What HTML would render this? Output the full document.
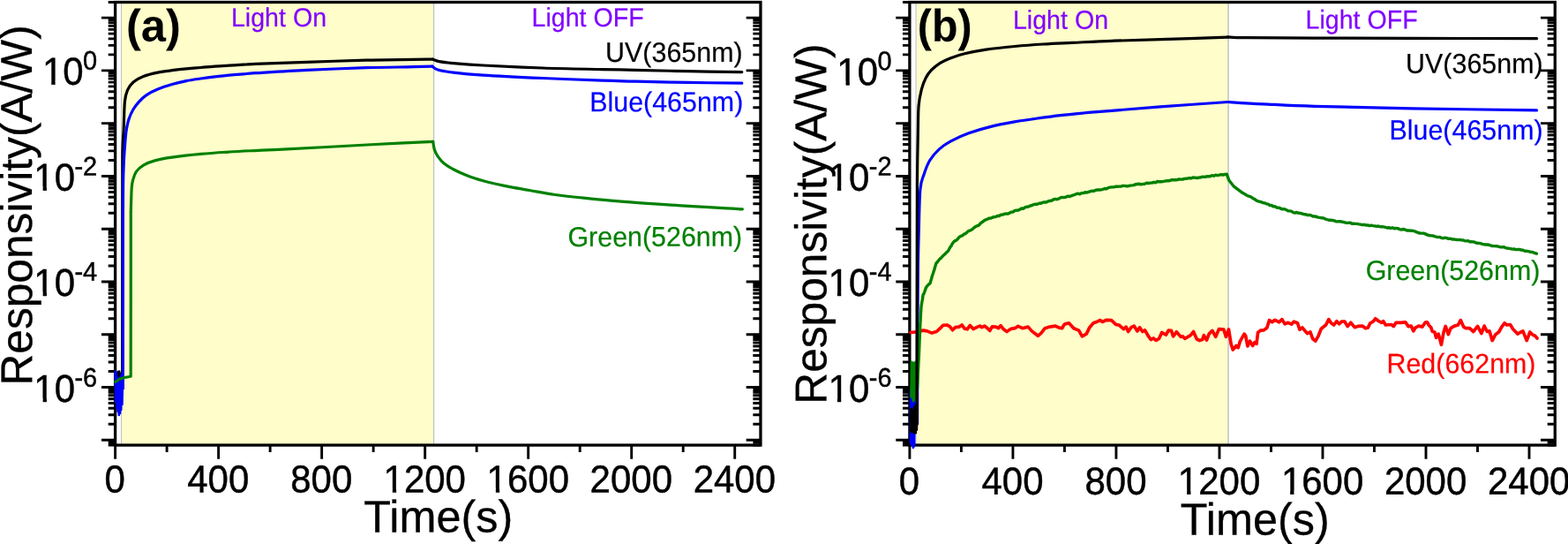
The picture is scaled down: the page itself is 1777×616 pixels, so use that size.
<!DOCTYPE html>
<html lang="en">
<head>
<meta charset="utf-8">
<title>Responsivity vs Time</title>
<style>
html,body{margin:0;padding:0;background:#fff;}
body{width:1777px;height:616px;overflow:hidden;}
svg{display:block;}
</style>
</head>
<body>
<svg width="1777" height="616" viewBox="0 0 1777 616">
<defs><clipPath id="k1"><path clip-rule="evenodd" d="M-120 -70H120V30H-120ZM-45.15 -4.1H-36.00V1H-45.15ZM-31.75 -4.1H-23.65V1H-31.75Z"/></clipPath><clipPath id="k2"><path clip-rule="evenodd" d="M-120 -70H120V30H-120ZM-60.47 -4.1H-51.32V1H-60.47ZM-47.07 -4.1H-38.97V1H-47.07Z"/></clipPath><clipPath id="k3"><path clip-rule="evenodd" d="M-120 -70H120V30H-120ZM-69.98 -4.1H-60.83V1H-69.98ZM-56.58 -4.1H-48.48V1H-56.58Z"/></clipPath></defs>
<rect width="1777" height="616" fill="#fff"/>
<rect x="138" y="2.50" width="353.00" height="501.55" fill="#fffdca"/><rect x="137" y="2.50" width="1.00" height="501.55" fill="#c0c0c0"/><rect x="491" y="2.50" width="1.00" height="501.55" fill="#c0c0c0"/><rect x="492" y="2.50" width="1.00" height="501.55" fill="#f0f0f0"/>
<rect x="1038.8" y="2.50" width="352.20" height="501.55" fill="#fffdca"/><rect x="1037.4" y="2.50" width="1.40" height="501.55" fill="#cfcfcf"/><rect x="1391" y="2.50" width="2.00" height="501.55" fill="#d0d0d0"/>
<rect x="130.60" y="2.50" width="731.37" height="501.55" fill="none" stroke="#000" stroke-width="3.3"/>
<path d="M122.70 504.08H130.60M861.97 504.08H853.37 M122.70 501.02H130.60M861.97 501.02H853.37 M115.00 498.29H130.60M861.97 498.29H845.67 M122.70 480.30H130.60M861.97 480.30H853.37 M122.70 469.77H130.60M861.97 469.77H853.37 M122.70 462.30H130.60M861.97 462.30H853.37 M122.70 456.51H130.60M861.97 456.51H853.37 M122.70 451.78H130.60M861.97 451.78H853.37 M122.70 447.78H130.60M861.97 447.78H853.37 M122.70 444.31H130.60M861.97 444.31H853.37 M122.70 441.25H130.60M861.97 441.25H853.37 M115.00 438.52H130.60M861.97 438.52H845.67 M122.70 420.53H130.60M861.97 420.53H853.37 M122.70 410.00H130.60M861.97 410.00H853.37 M122.70 402.53H130.60M861.97 402.53H853.37 M122.70 396.74H130.60M861.97 396.74H853.37 M122.70 392.01H130.60M861.97 392.01H853.37 M122.70 388.01H130.60M861.97 388.01H853.37 M122.70 384.54H130.60M861.97 384.54H853.37 M122.70 381.48H130.60M861.97 381.48H853.37 M115.00 378.75H130.60M861.97 378.75H845.67 M122.70 360.76H130.60M861.97 360.76H853.37 M122.70 350.23H130.60M861.97 350.23H853.37 M122.70 342.76H130.60M861.97 342.76H853.37 M122.70 336.97H130.60M861.97 336.97H853.37 M122.70 332.24H130.60M861.97 332.24H853.37 M122.70 328.24H130.60M861.97 328.24H853.37 M122.70 324.77H130.60M861.97 324.77H853.37 M122.70 321.71H130.60M861.97 321.71H853.37 M115.00 318.98H130.60M861.97 318.98H845.67 M122.70 300.99H130.60M861.97 300.99H853.37 M122.70 290.46H130.60M861.97 290.46H853.37 M122.70 282.99H130.60M861.97 282.99H853.37 M122.70 277.20H130.60M861.97 277.20H853.37 M122.70 272.47H130.60M861.97 272.47H853.37 M122.70 268.47H130.60M861.97 268.47H853.37 M122.70 265.00H130.60M861.97 265.00H853.37 M122.70 261.94H130.60M861.97 261.94H853.37 M115.00 259.21H130.60M861.97 259.21H845.67 M122.70 241.22H130.60M861.97 241.22H853.37 M122.70 230.69H130.60M861.97 230.69H853.37 M122.70 223.22H130.60M861.97 223.22H853.37 M122.70 217.43H130.60M861.97 217.43H853.37 M122.70 212.70H130.60M861.97 212.70H853.37 M122.70 208.70H130.60M861.97 208.70H853.37 M122.70 205.23H130.60M861.97 205.23H853.37 M122.70 202.17H130.60M861.97 202.17H853.37 M115.00 199.44H130.60M861.97 199.44H845.67 M122.70 181.45H130.60M861.97 181.45H853.37 M122.70 170.92H130.60M861.97 170.92H853.37 M122.70 163.45H130.60M861.97 163.45H853.37 M122.70 157.66H130.60M861.97 157.66H853.37 M122.70 152.93H130.60M861.97 152.93H853.37 M122.70 148.93H130.60M861.97 148.93H853.37 M122.70 145.46H130.60M861.97 145.46H853.37 M122.70 142.40H130.60M861.97 142.40H853.37 M115.00 139.67H130.60M861.97 139.67H845.67 M122.70 121.68H130.60M861.97 121.68H853.37 M122.70 111.15H130.60M861.97 111.15H853.37 M122.70 103.68H130.60M861.97 103.68H853.37 M122.70 97.89H130.60M861.97 97.89H853.37 M122.70 93.16H130.60M861.97 93.16H853.37 M122.70 89.16H130.60M861.97 89.16H853.37 M122.70 85.69H130.60M861.97 85.69H853.37 M122.70 82.63H130.60M861.97 82.63H853.37 M115.00 79.90H130.60M861.97 79.90H845.67 M122.70 61.91H130.60M861.97 61.91H853.37 M122.70 51.38H130.60M861.97 51.38H853.37 M122.70 43.91H130.60M861.97 43.91H853.37 M122.70 38.12H130.60M861.97 38.12H853.37 M122.70 33.39H130.60M861.97 33.39H853.37 M122.70 29.39H130.60M861.97 29.39H853.37 M122.70 25.92H130.60M861.97 25.92H853.37 M122.70 22.86H130.60M861.97 22.86H853.37 M115.00 20.13H130.60M861.97 20.13H845.67 M122.70 2.50H130.60 M122.70 504.05H130.60 M130.60 504.05V519.65 M189.11 504.05V511.95 M247.62 504.05V519.65 M306.13 504.05V511.95 M364.64 504.05V519.65 M423.15 504.05V511.95 M481.66 504.05V519.65 M540.17 504.05V511.95 M598.68 504.05V519.65 M657.19 504.05V511.95 M715.70 504.05V519.65 M774.21 504.05V511.95 M832.72 504.05V519.65" fill="none" stroke="#000" stroke-width="2.9"/>
<rect x="1030.90" y="2.50" width="731.38" height="501.55" fill="none" stroke="#000" stroke-width="3.3"/>
<path d="M1023.00 504.08H1030.90M1762.28 504.08H1753.67 M1023.00 501.02H1030.90M1762.28 501.02H1753.67 M1015.30 498.29H1030.90M1762.28 498.29H1745.98 M1023.00 480.30H1030.90M1762.28 480.30H1753.67 M1023.00 469.77H1030.90M1762.28 469.77H1753.67 M1023.00 462.30H1030.90M1762.28 462.30H1753.67 M1023.00 456.51H1030.90M1762.28 456.51H1753.67 M1023.00 451.78H1030.90M1762.28 451.78H1753.67 M1023.00 447.78H1030.90M1762.28 447.78H1753.67 M1023.00 444.31H1030.90M1762.28 444.31H1753.67 M1023.00 441.25H1030.90M1762.28 441.25H1753.67 M1015.30 438.52H1030.90M1762.28 438.52H1745.98 M1023.00 420.53H1030.90M1762.28 420.53H1753.67 M1023.00 410.00H1030.90M1762.28 410.00H1753.67 M1023.00 402.53H1030.90M1762.28 402.53H1753.67 M1023.00 396.74H1030.90M1762.28 396.74H1753.67 M1023.00 392.01H1030.90M1762.28 392.01H1753.67 M1023.00 388.01H1030.90M1762.28 388.01H1753.67 M1023.00 384.54H1030.90M1762.28 384.54H1753.67 M1023.00 381.48H1030.90M1762.28 381.48H1753.67 M1015.30 378.75H1030.90M1762.28 378.75H1745.98 M1023.00 360.76H1030.90M1762.28 360.76H1753.67 M1023.00 350.23H1030.90M1762.28 350.23H1753.67 M1023.00 342.76H1030.90M1762.28 342.76H1753.67 M1023.00 336.97H1030.90M1762.28 336.97H1753.67 M1023.00 332.24H1030.90M1762.28 332.24H1753.67 M1023.00 328.24H1030.90M1762.28 328.24H1753.67 M1023.00 324.77H1030.90M1762.28 324.77H1753.67 M1023.00 321.71H1030.90M1762.28 321.71H1753.67 M1015.30 318.98H1030.90M1762.28 318.98H1745.98 M1023.00 300.99H1030.90M1762.28 300.99H1753.67 M1023.00 290.46H1030.90M1762.28 290.46H1753.67 M1023.00 282.99H1030.90M1762.28 282.99H1753.67 M1023.00 277.20H1030.90M1762.28 277.20H1753.67 M1023.00 272.47H1030.90M1762.28 272.47H1753.67 M1023.00 268.47H1030.90M1762.28 268.47H1753.67 M1023.00 265.00H1030.90M1762.28 265.00H1753.67 M1023.00 261.94H1030.90M1762.28 261.94H1753.67 M1015.30 259.21H1030.90M1762.28 259.21H1745.98 M1023.00 241.22H1030.90M1762.28 241.22H1753.67 M1023.00 230.69H1030.90M1762.28 230.69H1753.67 M1023.00 223.22H1030.90M1762.28 223.22H1753.67 M1023.00 217.43H1030.90M1762.28 217.43H1753.67 M1023.00 212.70H1030.90M1762.28 212.70H1753.67 M1023.00 208.70H1030.90M1762.28 208.70H1753.67 M1023.00 205.23H1030.90M1762.28 205.23H1753.67 M1023.00 202.17H1030.90M1762.28 202.17H1753.67 M1015.30 199.44H1030.90M1762.28 199.44H1745.98 M1023.00 181.45H1030.90M1762.28 181.45H1753.67 M1023.00 170.92H1030.90M1762.28 170.92H1753.67 M1023.00 163.45H1030.90M1762.28 163.45H1753.67 M1023.00 157.66H1030.90M1762.28 157.66H1753.67 M1023.00 152.93H1030.90M1762.28 152.93H1753.67 M1023.00 148.93H1030.90M1762.28 148.93H1753.67 M1023.00 145.46H1030.90M1762.28 145.46H1753.67 M1023.00 142.40H1030.90M1762.28 142.40H1753.67 M1015.30 139.67H1030.90M1762.28 139.67H1745.98 M1023.00 121.68H1030.90M1762.28 121.68H1753.67 M1023.00 111.15H1030.90M1762.28 111.15H1753.67 M1023.00 103.68H1030.90M1762.28 103.68H1753.67 M1023.00 97.89H1030.90M1762.28 97.89H1753.67 M1023.00 93.16H1030.90M1762.28 93.16H1753.67 M1023.00 89.16H1030.90M1762.28 89.16H1753.67 M1023.00 85.69H1030.90M1762.28 85.69H1753.67 M1023.00 82.63H1030.90M1762.28 82.63H1753.67 M1015.30 79.90H1030.90M1762.28 79.90H1745.98 M1023.00 61.91H1030.90M1762.28 61.91H1753.67 M1023.00 51.38H1030.90M1762.28 51.38H1753.67 M1023.00 43.91H1030.90M1762.28 43.91H1753.67 M1023.00 38.12H1030.90M1762.28 38.12H1753.67 M1023.00 33.39H1030.90M1762.28 33.39H1753.67 M1023.00 29.39H1030.90M1762.28 29.39H1753.67 M1023.00 25.92H1030.90M1762.28 25.92H1753.67 M1023.00 22.86H1030.90M1762.28 22.86H1753.67 M1015.30 20.13H1030.90M1762.28 20.13H1745.98 M1023.00 2.50H1030.90 M1023.00 504.05H1030.90 M1030.90 504.05V519.65 M1089.41 504.05V511.95 M1147.92 504.05V519.65 M1206.43 504.05V511.95 M1264.94 504.05V519.65 M1323.45 504.05V511.95 M1381.96 504.05V519.65 M1440.47 504.05V511.95 M1498.98 504.05V519.65 M1557.49 504.05V511.95 M1616.00 504.05V519.65 M1674.51 504.05V511.95 M1733.02 504.05V519.65" fill="none" stroke="#000" stroke-width="2.9"/>
<path d="M131.0 430.0 L133.5 421.0 L134.5 438.0 L135.2 420.5 L136.0 440.0 L137.0 423.0 L138.5 430.0" fill="none" stroke="#000" stroke-width="2.5" stroke-linejoin="round" stroke-linecap="round" />
<path d="M138.7 430.0 C138.7 398.3 138.8 282.9 138.8 240.0 C138.8 197.1 138.7 187.9 138.9 172.5 C139.1 157.1 139.7 157.0 140.1 147.4 C140.5 137.8 140.7 122.5 141.4 114.9 C142.2 107.3 143.0 105.6 144.6 101.9 C146.2 98.2 148.1 95.6 151.1 93.0 C154.1 90.4 157.9 88.3 162.5 86.5 C167.1 84.7 173.3 83.2 178.7 82.1 C184.1 81.0 189.5 80.4 194.9 79.7 C200.3 79.0 205.7 78.4 211.1 77.9 C216.5 77.4 222.0 77.0 227.4 76.5 C232.8 76.0 238.2 75.6 243.6 75.2 C249.0 74.8 254.4 74.5 259.8 74.2 C265.2 73.9 271.0 73.5 276.0 73.2 C281.0 72.9 277.9 72.9 289.8 72.4 C301.7 71.9 326.6 71.0 347.5 70.3 C368.4 69.6 394.8 68.7 415.0 68.2 C435.2 67.7 456.4 67.5 469.0 67.3 C481.6 67.1 487.1 67.2 490.7 67.2" fill="none" stroke="#000" stroke-width="3.2" stroke-linejoin="round" stroke-linecap="round"/>
<path d="M490.7 67.2 C491.9 67.6 493.8 68.9 497.6 69.6 C501.5 70.3 505.5 70.9 513.8 71.6 C522.1 72.3 530.6 73.1 547.5 74.0 C564.4 74.9 592.5 76.2 615.0 77.0 C637.5 77.8 665.1 78.2 682.6 78.6 C700.1 79.0 703.8 78.9 720.0 79.3 C736.2 79.7 759.9 80.3 780.0 80.7 C800.1 81.1 830.7 81.4 840.8 81.6" fill="none" stroke="#000" stroke-width="3.2" stroke-linejoin="round" stroke-linecap="round"/>
<path d="M130.8 420.5 L131.2 455.0 L131.8 422.0 L132.4 462.0 L133.0 432.0 L133.6 466.0 L134.2 428.0 L134.8 470.0 L135.4 430.0 L136.0 468.0 L136.6 427.0 L137.2 464.0 L137.8 424.0 L138.4 458.0 L139.0 430.0 L139.3 440.0" fill="none" stroke="#0000ff" stroke-width="2.6" stroke-linejoin="round" stroke-linecap="round" />
<path d="M139.3 440.0 C139.3 406.7 139.3 281.9 139.4 240.0 C139.5 198.1 139.6 202.7 140.1 188.7 C140.6 174.7 141.6 163.5 142.2 156.2 C142.8 148.9 142.9 148.6 143.6 145.0 C144.3 141.4 144.9 137.9 146.2 134.4 C147.4 130.9 149.2 127.0 151.1 123.8 C153.0 120.6 155.2 117.8 157.6 115.1 C160.0 112.4 162.2 110.1 165.7 107.8 C169.2 105.5 173.8 103.0 178.7 101.0 C183.6 99.0 189.5 97.1 194.9 95.5 C200.3 93.9 205.7 92.7 211.1 91.6 C216.5 90.5 222.0 89.8 227.4 89.0 C232.8 88.2 238.2 87.5 243.6 86.9 C249.0 86.3 254.4 85.7 259.8 85.2 C265.2 84.7 271.0 84.2 276.0 83.8 C281.0 83.4 277.9 83.4 289.8 82.7 C301.7 82.0 326.6 80.4 347.5 79.4 C368.4 78.4 394.8 77.3 415.0 76.7 C435.2 76.1 456.5 76.0 469.0 75.7 C481.5 75.4 486.5 75.2 490.0 75.1" fill="none" stroke="#0000ff" stroke-width="3.2" stroke-linejoin="round" stroke-linecap="round"/>
<path d="M490.0 75.1 C491.0 75.8 492.2 77.8 496.2 79.0 C500.2 80.2 505.2 81.1 513.8 82.1 C522.3 83.1 530.6 84.0 547.5 85.1 C564.4 86.2 592.5 87.5 615.0 88.5 C637.5 89.5 665.1 90.6 682.6 91.2 C700.1 91.8 703.8 91.7 720.0 92.1 C736.2 92.5 759.9 93.1 780.0 93.4 C800.1 93.8 830.7 94.1 840.8 94.2" fill="none" stroke="#0000ff" stroke-width="3.2" stroke-linejoin="round" stroke-linecap="round"/>
<path d="M130.8 432.5 L135.0 429.5 L140.0 427.8 L148.2 426.2 L148.3 300.0 L148.3 240.0" fill="none" stroke="#008000" stroke-width="3.2" stroke-linejoin="round" stroke-linecap="round" />
<path d="M148.3 240.0 C148.5 235.5 148.8 219.2 149.2 213.1 C149.6 207.0 149.9 206.4 150.8 203.3 C151.7 200.2 152.5 197.1 154.4 194.4 C156.3 191.7 159.0 189.2 162.5 187.1 C166.0 185.0 170.1 183.4 175.5 181.9 C180.9 180.4 186.3 179.4 195.0 178.2 C203.7 176.9 216.6 175.4 227.4 174.4 C238.2 173.4 249.1 172.7 259.9 172.0 C270.7 171.3 281.6 170.9 292.4 170.4 C303.2 169.9 312.0 169.6 324.9 168.9 C337.8 168.2 353.3 167.4 370.0 166.5 C386.7 165.6 404.9 164.5 425.0 163.5 C445.1 162.5 479.8 160.8 490.7 160.3" fill="none" stroke="#008000" stroke-width="3.2" stroke-linejoin="round" stroke-linecap="round"/>
<path d="M490.7 160.3 C491.0 161.8 491.4 166.4 492.3 169.2 C493.2 172.0 494.6 174.7 496.4 177.3 C498.2 179.9 499.9 182.2 502.9 184.7 C505.9 187.1 509.7 189.6 514.3 192.0 C518.9 194.4 525.1 197.2 530.5 199.3 C535.9 201.4 541.3 203.0 546.7 204.5 C552.1 206.0 557.6 207.3 563.0 208.5 C568.4 209.7 573.0 210.7 579.2 211.9 C585.4 213.1 591.7 214.1 600.0 215.5 C608.3 216.9 617.7 218.9 629.0 220.5 C640.3 222.1 654.9 223.5 667.9 224.8 C680.9 226.1 693.9 227.2 706.9 228.3 C719.9 229.4 732.9 230.3 745.9 231.2 C758.9 232.1 771.9 232.8 784.9 233.6 C797.9 234.4 814.4 235.3 823.8 235.9 C833.2 236.5 838.5 236.7 841.4 236.9" fill="none" stroke="#008000" stroke-width="3.2" stroke-linejoin="round" stroke-linecap="round"/>
<path d="M1032.0 376.5 L1037.8 375.8 L1046.4 374.1 L1050.7 374.9 L1056.0 377.1 L1061.4 375.5 L1065.6 371.7 L1068.8 368.3 L1073.1 368.0 L1076.3 369.6 L1079.5 373.7 L1082.7 370.7 L1087.0 370.1 L1090.2 368.0 L1093.4 372.3 L1096.1 372.8 L1099.3 368.5 L1103.0 372.6 L1107.3 370.4 L1110.5 369.1 L1112.7 370.7 L1115.9 369.1 L1119.1 371.7 L1121.8 374.4 L1124.4 369.8 L1128.7 370.1 L1131.4 371.7 L1134.1 368.7 L1137.3 372.8 L1141.0 375.5 L1145.8 372.3 L1150.1 371.7 L1153.8 369.4 L1158.6 371.7 L1165.1 370.1 L1169.3 374.9 L1176.3 380.3 L1180.0 377.1 L1184.3 371.7 L1189.7 370.1 L1196.1 369.1 L1200.3 371.2 L1203.6 371.7 L1206.0 367.6 L1207.1 366.9 L1211.4 365.8 L1216.8 371.7 L1222.6 374.1 L1226.4 380.8 L1231.2 378.1 L1234.9 370.7 L1239.2 365.8 L1243.5 364.2 L1246.7 362.6 L1249.4 364.5 L1253.6 362.3 L1259.5 362.6 L1264.9 367.7 L1268.1 368.0 L1273.4 372.6 L1276.1 370.1 L1278.6 375.5 L1282.0 370.7 L1285.2 369.1 L1288.9 374.9 L1291.6 370.9 L1294.8 375.5 L1297.5 373.9 L1301.2 380.3 L1304.4 384.6 L1307.1 383.0 L1310.3 385.4 L1313.5 383.5 L1316.7 376.5 L1321.5 379.2 L1324.2 374.1 L1327.4 374.4 L1329.6 380.8 L1333.3 375.8 L1338.1 381.4 L1340.3 380.8 L1342.9 383.3 L1349.3 379.7 L1352.5 375.5 L1356.3 384.0 L1359.5 385.6 L1362.7 384.6 L1364.3 379.7 L1367.5 385.1 L1370.2 378.1 L1373.9 374.4 L1377.7 381.4 L1381.4 372.6 L1386.8 373.0 L1389.4 381.4 L1392.5 373.0 L1395.2 389.9 L1397.3 396.1 L1401.0 391.5 L1403.2 393.6 L1405.3 386.7 L1410.1 378.1 L1411.7 380.3 L1413.9 392.0 L1416.5 386.2 L1419.7 391.5 L1421.9 387.8 L1424.0 389.4 L1425.6 376.5 L1428.8 374.1 L1432.0 373.9 L1435.8 371.2 L1438.5 362.6 L1441.7 364.8 L1444.9 362.3 L1449.7 364.8 L1452.9 361.6 L1456.1 366.9 L1459.8 365.3 L1463.6 367.2 L1466.3 364.2 L1470.5 365.8 L1472.9 373.3 L1475.9 370.9 L1479.1 374.9 L1481.8 377.6 L1485.0 376.0 L1487.6 383.5 L1490.8 386.2 L1494.1 380.3 L1497.3 372.3 L1502.6 368.0 L1505.8 361.6 L1508.5 365.8 L1511.7 368.0 L1514.9 363.7 L1517.6 366.9 L1520.3 364.2 L1524.0 364.2 L1527.2 369.6 L1530.9 365.3 L1535.2 370.7 L1539.0 369.4 L1544.3 369.1 L1547.5 371.7 L1550.2 371.2 L1552.9 365.8 L1556.1 364.2 L1558.7 360.8 L1562.5 363.7 L1565.7 365.3 L1567.7 363.7 L1570.3 368.0 L1576.8 367.5 L1579.4 369.6 L1582.1 365.3 L1587.5 365.3 L1592.8 364.8 L1596.0 369.6 L1599.2 369.1 L1601.9 374.9 L1604.0 371.2 L1607.8 369.1 L1612.0 370.1 L1615.3 365.1 L1617.4 364.8 L1619.5 368.5 L1621.7 370.7 L1623.3 375.5 L1625.9 376.0 L1627.5 382.4 L1630.2 378.1 L1633.4 390.4 L1636.1 376.0 L1638.2 369.4 L1641.4 378.7 L1644.1 371.7 L1648.4 369.1 L1652.1 368.3 L1655.3 362.6 L1658.6 370.1 L1661.2 371.7 L1665.5 371.7 L1669.8 375.5 L1674.6 369.4 L1678.9 377.6 L1682.1 369.1 L1685.3 375.5 L1688.0 374.9 L1691.2 385.6 L1694.9 378.7 L1698.6 376.0 L1701.9 370.1 L1705.1 365.8 L1707.7 368.0 L1711.5 367.5 L1714.7 372.8 L1720.0 378.1 L1722.7 376.5 L1725.9 374.9 L1730.2 385.6 L1733.9 376.0 L1737.1 379.2 L1739.8 380.3 L1742.0 383.0" fill="none" stroke="#ff0000" stroke-width="3.7" stroke-linejoin="round" stroke-linecap="round" />
<path d="M1031.8 500.9 L1032.1 442.4 L1032.4 502.0 L1032.7 442.8 L1033.1 504.0 L1033.4 438.5 L1033.7 499.1 L1034.0 444.7 L1034.3 501.1 L1034.6 439.9 L1034.9 507.0 L1035.2 441.8 L1035.6 505.7 L1035.9 441.8 L1036.2 504.1 L1036.5 439.2" fill="none" stroke="#0000ff" stroke-width="2.6" stroke-linejoin="round" stroke-linecap="round" />
<path d="M1039.6 480.0 C1039.6 463.3 1039.7 410.0 1039.8 380.0 C1039.9 350.0 1040.2 320.0 1040.4 300.0 C1040.7 280.0 1040.9 274.3 1041.3 260.0 C1041.7 245.7 1041.9 224.8 1042.9 214.3 C1043.9 203.8 1045.5 202.4 1047.3 196.9 C1049.1 191.4 1051.0 186.1 1053.8 181.5 C1056.6 176.9 1060.3 172.7 1064.2 169.1 C1068.1 165.5 1071.5 163.1 1077.1 160.1 C1082.7 157.1 1090.1 153.6 1097.9 150.8 C1105.7 148.0 1115.2 145.2 1123.9 143.1 C1132.6 140.9 1141.2 139.4 1149.9 137.9 C1158.6 136.4 1167.2 135.2 1175.8 134.0 C1184.4 132.8 1193.1 131.6 1201.8 130.6 C1210.5 129.6 1218.1 128.9 1227.8 128.0 C1237.5 127.1 1245.5 126.5 1260.0 125.3 C1274.5 124.1 1293.1 122.5 1315.0 120.9 C1336.9 119.3 1378.8 116.4 1391.6 115.5" fill="none" stroke="#0000ff" stroke-width="3.2" stroke-linejoin="round" stroke-linecap="round"/>
<path d="M1391.6 115.5 C1398.3 115.9 1415.4 117.0 1431.8 117.8 C1448.2 118.6 1462.0 119.6 1490.0 120.4 C1518.0 121.2 1558.1 122.0 1600.0 122.8 C1641.9 123.5 1718.0 124.6 1741.6 124.9" fill="none" stroke="#0000ff" stroke-width="3.2" stroke-linejoin="round" stroke-linecap="round"/>
<path d="M1032.6 448.9 L1033.0 409.8 L1033.4 450.2 L1033.8 410.2 L1034.1 447.5 L1034.5 412.2 L1034.9 454.3 L1035.3 415.4 L1035.7 453.1 L1036.1 410.8 L1036.4 451.3 L1036.8 411.2 L1037.2 448.4 L1037.6 409.8" fill="none" stroke="#008000" stroke-width="2.6" stroke-linejoin="round" stroke-linecap="round" />
<path d="M1039.5 440.0 L1041.5 400.0 L1042.7 370.0 L1042.7 370.0 L1042.8 367.8 L1042.9 365.7 L1043.1 363.9 L1043.2 361.2 L1043.3 359.1 L1043.4 357.0 L1043.5 354.4 L1043.7 352.6 L1043.8 350.5 L1043.9 348.5 L1044.3 345.5 L1044.6 343.4 L1045.0 340.9 L1045.4 339.4 L1045.7 337.0 L1046.1 334.0 L1046.9 332.8 L1047.8 330.5 L1048.7 327.9 L1049.5 325.6 L1051.0 323.6 L1052.6 321.9 L1054.1 320.9 L1054.8 318.1 L1055.5 316.0 L1056.1 313.8 L1056.8 311.3 L1057.5 309.5 L1058.2 307.2 L1058.9 305.4 L1059.5 302.7 L1060.2 300.6 L1060.9 298.2 L1062.3 296.8 L1063.6 295.0 L1065.0 293.2 L1066.3 292.3 L1067.7 290.7 L1069.4 289.1 L1071.1 287.6 L1072.8 285.7 L1074.5 284.2 L1075.6 282.2 L1076.8 279.9 L1077.9 278.7 L1079.1 276.2 L1080.2 274.7 L1081.9 272.9 L1083.6 272.2 L1085.3 270.7 L1087.1 268.5 L1088.8 267.4 L1090.5 266.9 L1092.4 265.2 L1094.3 264.6 L1096.2 262.8 L1098.0 261.3 L1099.9 260.8 L1101.8 259.8 L1103.5 258.1 L1105.2 256.8 L1106.9 255.9 L1108.6 255.5 L1110.2 254.1 L1111.9 252.2 L1113.6 251.2 L1115.3 249.9 L1117.0 248.8 L1118.7 248.4 L1120.6 247.2 L1122.6 247.1 L1124.5 246.4 L1126.5 245.6 L1128.4 245.6 L1130.3 244.4 L1132.3 244.5 L1134.2 243.3 L1136.2 243.1 L1138.1 242.4 L1140.1 241.9 L1142.0 242.1 L1144.0 241.3 L1145.9 240.1 L1147.9 240.1 L1149.8 238.7 L1151.8 238.2 L1153.8 238.1 L1155.7 237.2 L1157.7 236.0 L1159.6 236.3 L1161.6 234.8 L1163.5 234.2 L1165.5 234.1 L1167.5 233.1 L1169.5 232.5 L1171.5 231.7 L1173.6 231.2 L1175.6 231.2 L1177.6 230.3 L1179.6 230.2 L1181.6 229.4 L1183.7 228.9 L1185.7 229.0 L1187.7 227.9 L1189.7 227.5 L1191.7 227.3 L1193.7 226.0 L1195.8 225.4 L1197.8 225.7 L1199.8 225.1 L1201.8 223.9 L1203.8 223.4 L1205.8 223.6 L1207.8 223.3 L1209.8 222.1 L1211.8 222.5 L1213.8 221.9 L1215.8 221.2 L1217.8 220.5 L1219.8 219.7 L1221.8 219.2 L1223.8 219.8 L1225.8 218.6 L1227.8 218.6 L1229.8 217.7 L1231.8 218.0 L1233.8 217.3 L1235.8 216.6 L1237.9 216.1 L1239.9 216.3 L1241.9 215.2 L1243.9 215.0 L1245.9 215.0 L1247.9 214.9 L1249.9 214.3 L1252.0 213.5 L1254.0 213.8 L1256.0 212.6 L1258.0 212.1 L1260.0 211.9 L1262.1 211.9 L1264.1 211.3 L1266.2 211.2 L1268.3 211.1 L1270.4 211.1 L1272.4 210.4 L1274.5 210.4 L1276.6 210.8 L1278.6 210.7 L1280.7 210.1 L1282.8 209.9 L1284.9 209.6 L1286.9 208.8 L1289.0 208.5 L1291.1 208.2 L1293.1 208.9 L1295.2 208.4 L1297.2 208.4 L1299.3 207.1 L1301.3 207.5 L1303.4 207.1 L1305.4 207.1 L1307.5 206.3 L1309.5 206.8 L1311.6 205.5 L1313.6 205.8 L1315.7 205.7 L1317.7 205.6 L1319.8 205.2 L1321.8 204.8 L1323.9 204.7 L1325.9 204.5 L1328.0 203.6 L1330.1 203.8 L1332.1 203.8 L1334.2 203.6 L1336.2 202.9 L1338.3 203.1 L1340.3 203.0 L1342.4 202.4 L1344.4 202.3 L1346.5 201.8 L1348.5 201.8 L1350.6 201.7 L1352.6 200.9 L1354.7 201.3 L1356.7 201.5 L1358.8 201.1 L1360.8 200.8 L1362.9 200.2 L1364.9 200.4 L1367.0 200.0 L1369.1 199.6 L1371.2 199.8 L1373.4 198.7 L1375.5 199.2 L1377.6 198.2 L1379.7 198.6 L1381.8 198.2 L1383.9 197.7 L1386.1 198.0 L1388.2 197.5 L1390.3 197.4" fill="none" stroke="#008000" stroke-width="3.4" stroke-linejoin="round" stroke-linecap="round" />
<path d="M1390.3 197.3 L1392.9 204.3 L1398.0 210.8 L1408.4 218.6 L1408.4 218.6 L1410.4 219.6 L1412.3 220.8 L1414.2 221.9 L1416.2 222.4 L1418.2 223.3 L1420.1 224.7 L1422.0 225.6 L1424.0 227.2 L1425.9 227.8 L1427.8 228.3 L1429.7 228.9 L1431.6 229.7 L1433.5 229.9 L1435.3 230.8 L1437.2 231.2 L1439.1 232.6 L1441.0 232.4 L1442.9 233.9 L1444.8 233.8 L1446.9 235.0 L1449.0 235.2 L1451.0 235.9 L1453.1 236.9 L1455.2 236.7 L1457.3 237.3 L1459.4 238.7 L1461.4 238.9 L1463.5 239.1 L1465.6 240.6 L1467.6 241.0 L1469.7 240.5 L1471.7 241.3 L1473.7 241.4 L1475.8 242.0 L1477.8 242.7 L1479.8 242.7 L1481.9 243.6 L1483.9 243.4 L1485.9 243.9 L1488.0 245.0 L1490.0 245.0 L1492.0 245.5 L1494.0 246.1 L1496.0 246.4 L1498.0 246.8 L1500.0 246.9 L1502.0 248.0 L1504.0 248.7 L1506.0 249.2 L1508.0 249.3 L1510.0 249.5 L1512.0 249.9 L1514.0 250.7 L1516.0 250.9 L1518.0 250.6 L1520.0 251.0 L1522.0 251.4 L1524.0 251.8 L1526.0 252.4 L1528.0 252.4 L1530.0 252.1 L1532.0 253.2 L1534.0 253.1 L1536.0 253.4 L1538.0 253.4 L1540.0 253.9 L1542.0 254.1 L1544.0 254.7 L1546.0 254.3 L1548.0 255.0 L1550.0 254.9 L1552.0 255.6 L1554.0 255.2 L1556.0 255.6 L1558.0 255.9 L1560.0 256.4 L1562.0 256.0 L1564.0 256.7 L1566.0 256.6 L1568.0 256.9 L1570.0 257.3 L1572.0 258.0 L1574.0 257.7 L1576.0 258.4 L1578.0 257.8 L1580.0 258.8 L1582.0 258.5 L1584.1 258.6 L1586.2 259.6 L1588.3 260.1 L1590.4 259.5 L1592.5 260.1 L1594.5 261.0 L1596.6 260.9 L1598.7 261.2 L1600.8 261.3 L1602.9 261.7 L1605.0 262.6 L1607.1 263.5 L1609.1 264.0 L1611.2 264.1 L1613.3 264.1 L1615.3 264.9 L1617.4 265.9 L1619.4 266.5 L1621.5 266.8 L1623.6 266.9 L1625.6 267.7 L1627.7 268.2 L1629.7 268.6 L1631.7 268.5 L1633.7 269.4 L1635.7 269.7 L1637.7 269.2 L1639.7 269.6 L1641.7 270.4 L1643.7 270.1 L1645.8 271.0 L1647.8 270.9 L1649.8 271.3 L1651.8 271.6 L1653.8 271.4 L1655.8 271.7 L1657.8 271.9 L1659.8 272.6 L1661.8 272.9 L1663.8 272.7 L1665.8 273.8 L1667.8 273.7 L1669.8 273.9 L1671.9 274.5 L1673.9 275.4 L1675.9 275.3 L1677.9 275.7 L1679.9 276.4 L1681.9 276.8 L1683.9 277.0 L1685.9 277.0 L1688.0 277.5 L1690.0 278.2 L1692.0 278.5 L1694.0 278.6 L1696.0 278.7 L1698.0 279.1 L1700.0 279.7 L1702.0 279.9 L1704.0 279.6 L1706.0 280.6 L1708.0 281.1 L1710.0 281.3 L1712.0 281.7 L1714.0 282.1 L1716.0 282.0 L1718.0 282.6 L1720.0 282.5 L1722.0 282.5 L1724.0 283.0 L1726.0 283.3 L1728.0 284.2 L1730.0 284.3 L1732.3 284.7 L1734.6 285.4 L1736.8 285.5 L1739.1 286.5 L1741.4 287.2" fill="none" stroke="#008000" stroke-width="3.4" stroke-linejoin="round" stroke-linecap="round" />
<path d="M1032.0 488.0 L1032.6 462.9 L1033.2 489.4 L1033.7 464.5 L1034.3 488.9 L1034.9 464.4 L1035.5 483.2 L1036.0 460.7 L1036.6 490.5 L1037.2 462.2 L1037.8 490.2 L1038.3 457.9 L1038.9 486.8 L1039.5 459.0" fill="none" stroke="#000" stroke-width="2.6" stroke-linejoin="round" stroke-linecap="round" />
<path d="M1039.0 480.0 C1039.0 450.0 1039.2 346.0 1039.3 300.0 C1039.4 254.0 1039.3 228.7 1039.5 204.0 C1039.7 179.3 1040.0 166.0 1040.3 152.0 C1040.6 138.0 1040.4 128.5 1041.1 120.0 C1041.8 111.5 1043.1 106.5 1044.4 101.2 C1045.8 95.9 1047.3 91.9 1049.2 88.2 C1051.1 84.5 1053.0 82.0 1055.7 79.2 C1058.4 76.4 1062.0 73.5 1065.5 71.3 C1069.0 69.1 1072.2 67.7 1076.8 65.9 C1081.4 64.2 1086.3 62.4 1093.1 60.8 C1099.9 59.2 1107.9 57.5 1117.4 56.1 C1126.9 54.7 1139.1 53.5 1149.9 52.5 C1160.7 51.5 1171.6 50.7 1182.4 50.0 C1193.2 49.3 1202.0 49.0 1214.9 48.4 C1227.8 47.8 1243.3 46.9 1260.0 46.3 C1276.7 45.7 1293.1 45.4 1315.0 44.7 C1336.9 44.0 1378.6 42.5 1391.3 42.1" fill="none" stroke="#000" stroke-width="3.2" stroke-linejoin="round" stroke-linecap="round"/>
<path d="M1391.3 41.9 C1394.8 42.0 1396.0 42.5 1412.4 42.7 C1428.9 42.9 1458.7 43.0 1490.0 43.1 C1521.3 43.2 1558.1 43.3 1600.0 43.4 C1641.9 43.5 1718.0 43.6 1741.6 43.6" fill="none" stroke="#000" stroke-width="3.2" stroke-linejoin="round" stroke-linecap="round"/>
<g font-family='"Liberation Sans", sans-serif' fill="#000">
<text transform="translate(130.20 557.50) rotate(-0.03) scale(1.012 1.05)" text-anchor="middle" font-size="41.5" stroke="#000" stroke-width="0.45">0</text>
<text transform="translate(247.22 557.50) rotate(-0.03) scale(1.012 1.05)" text-anchor="middle" font-size="41.5" stroke="#000" stroke-width="0.45">400</text>
<text transform="translate(364.24 557.50) rotate(-0.03) scale(1.012 1.05)" text-anchor="middle" font-size="41.5" stroke="#000" stroke-width="0.45">800</text>
<text transform="translate(481.26 557.50) rotate(-0.03) scale(1.012 1.05)" text-anchor="middle" font-size="41.5" stroke="#000" stroke-width="0.45" clip-path="url(#k1)">1200</text>
<text transform="translate(598.28 557.50) rotate(-0.03) scale(1.012 1.05)" text-anchor="middle" font-size="41.5" stroke="#000" stroke-width="0.45" clip-path="url(#k1)">1600</text>
<text transform="translate(715.30 557.50) rotate(-0.03) scale(1.012 1.05)" text-anchor="middle" font-size="41.5" stroke="#000" stroke-width="0.45">2000</text>
<text transform="translate(832.32 557.50) rotate(-0.03) scale(1.012 1.05)" text-anchor="middle" font-size="41.5" stroke="#000" stroke-width="0.45">2400</text>
<text transform="translate(110.20 95.80) rotate(-0.03) scale(1.012 1.05)" text-anchor="end" font-size="41.5" stroke="#000" stroke-width="0.45" clip-path="url(#k2)">10<tspan dx="-0.6" dy="-16.3" font-size="28.6">0</tspan></text>
<text transform="translate(110.20 215.64) rotate(-0.03) scale(1.012 1.05)" text-anchor="end" font-size="41.5" stroke="#000" stroke-width="0.45" clip-path="url(#k3)">10<tspan dx="-0.6" dy="-16.3" font-size="28.6">-2</tspan></text>
<text transform="translate(110.20 334.88) rotate(-0.03) scale(1.012 1.05)" text-anchor="end" font-size="41.5" stroke="#000" stroke-width="0.45" clip-path="url(#k3)">10<tspan dx="-0.6" dy="-16.3" font-size="28.6">-4</tspan></text>
<text transform="translate(110.20 454.92) rotate(-0.03) scale(1.012 1.05)" text-anchor="end" font-size="41.5" stroke="#000" stroke-width="0.45" clip-path="url(#k3)">10<tspan dx="-0.6" dy="-16.3" font-size="28.6">-6</tspan></text>
<text transform="translate(1030.50 559.80) rotate(-0.03) scale(1.012 1.05)" text-anchor="middle" font-size="41.5" stroke="#000" stroke-width="0.45">0</text>
<text transform="translate(1147.52 559.80) rotate(-0.03) scale(1.012 1.05)" text-anchor="middle" font-size="41.5" stroke="#000" stroke-width="0.45">400</text>
<text transform="translate(1264.54 559.80) rotate(-0.03) scale(1.012 1.05)" text-anchor="middle" font-size="41.5" stroke="#000" stroke-width="0.45">800</text>
<text transform="translate(1381.56 559.80) rotate(-0.03) scale(1.012 1.05)" text-anchor="middle" font-size="41.5" stroke="#000" stroke-width="0.45" clip-path="url(#k1)">1200</text>
<text transform="translate(1498.58 559.80) rotate(-0.03) scale(1.012 1.05)" text-anchor="middle" font-size="41.5" stroke="#000" stroke-width="0.45" clip-path="url(#k1)">1600</text>
<text transform="translate(1615.60 559.80) rotate(-0.03) scale(1.012 1.05)" text-anchor="middle" font-size="41.5" stroke="#000" stroke-width="0.45">2000</text>
<text transform="translate(1732.62 559.80) rotate(-0.03) scale(1.012 1.05)" text-anchor="middle" font-size="41.5" stroke="#000" stroke-width="0.45">2400</text>
<text transform="translate(1010.50 96.30) rotate(-0.03) scale(1.012 1.05)" text-anchor="end" font-size="41.5" stroke="#000" stroke-width="0.45" clip-path="url(#k2)">10<tspan dx="-0.6" dy="-16.3" font-size="28.6">0</tspan></text>
<text transform="translate(1010.50 215.64) rotate(-0.03) scale(1.012 1.05)" text-anchor="end" font-size="41.5" stroke="#000" stroke-width="0.45" clip-path="url(#k3)">10<tspan dx="-0.6" dy="-16.3" font-size="28.6">-2</tspan></text>
<text transform="translate(1010.50 334.88) rotate(-0.03) scale(1.012 1.05)" text-anchor="end" font-size="41.5" stroke="#000" stroke-width="0.45" clip-path="url(#k3)">10<tspan dx="-0.6" dy="-16.3" font-size="28.6">-4</tspan></text>
<text transform="translate(1010.50 454.92) rotate(-0.03) scale(1.012 1.05)" text-anchor="end" font-size="41.5" stroke="#000" stroke-width="0.45" clip-path="url(#k3)">10<tspan dx="-0.6" dy="-16.3" font-size="28.6">-6</tspan></text>
<text transform="translate(496.79 602.40) rotate(-0.03) scale(1.008 1.02)" text-anchor="middle" font-size="50" stroke="#000" stroke-width="0.3">Time(s)</text>
<text transform="translate(36.10 232.40) rotate(-90.03) scale(0.993 1.008)" text-anchor="middle" font-size="50" stroke="#000" stroke-width="0.3">Responsivity(A/W)</text>
<text transform="translate(1422.29 605.50) rotate(-0.03) scale(1.008 1.02)" text-anchor="middle" font-size="50" stroke="#000" stroke-width="0.3">Time(s)</text>
<text transform="translate(936.40 253.60) rotate(-90.03) scale(0.993 1.008)" text-anchor="middle" font-size="50" stroke="#000" stroke-width="0.3">Responsivity(A/W)</text>
<text transform="translate(142.90 46.80) rotate(-0.03) scale(0.985 1.0)" font-size="51.5" font-weight="bold">(a)</text>
<text transform="translate(1039.80 46.80) rotate(-0.03) scale(0.94 1.0)" font-size="51.5" font-weight="bold">(b)</text>
<text transform="translate(261.90 30.00) rotate(-0.03) scale(0.987 1.03)" font-size="29" fill="#8000ff" stroke="#8000ff" stroke-width="0.2">Light On</text>
<text transform="translate(602.50 30.00) rotate(-0.03) scale(0.987 1.03)" font-size="29" fill="#8000ff" stroke="#8000ff" stroke-width="0.2">Light OFF</text>
<text transform="translate(841.60 69.90) rotate(-0.03) scale(1.014 1.05)" text-anchor="end" font-size="30" fill="#000" stroke="#000" stroke-width="0.2">UV(365nm)</text>
<text transform="translate(842.30 126.10) rotate(-0.03) scale(1.014 1.05)" text-anchor="end" font-size="30" fill="#0000ff" stroke="#0000ff" stroke-width="0.2">Blue(465nm)</text>
<text transform="translate(841.20 278.80) rotate(-0.03) scale(1.014 1.05)" text-anchor="end" font-size="30" fill="#008000" stroke="#008000" stroke-width="0.2">Green(526nm)</text>
<text transform="translate(1147.90 32.70) rotate(-0.03) scale(0.987 1.03)" font-size="29" fill="#8000ff" stroke="#8000ff" stroke-width="0.2">Light On</text>
<text transform="translate(1479.50 32.60) rotate(-0.03) scale(0.987 1.03)" font-size="29" fill="#8000ff" stroke="#8000ff" stroke-width="0.2">Light OFF</text>
<text transform="translate(1748.60 82.70) rotate(-0.03) scale(1.014 1.05)" text-anchor="end" font-size="30" fill="#000" stroke="#000" stroke-width="0.2">UV(365nm)</text>
<text transform="translate(1748.60 157.90) rotate(-0.03) scale(1.014 1.05)" text-anchor="end" font-size="30" fill="#0000ff" stroke="#0000ff" stroke-width="0.2">Blue(465nm)</text>
<text transform="translate(1745.40 317.00) rotate(-0.03) scale(1.014 1.05)" text-anchor="end" font-size="30" fill="#008000" stroke="#008000" stroke-width="0.2">Green(526nm)</text>
<text transform="translate(1740.50 422.40) rotate(-0.03) scale(1.014 1.05)" text-anchor="end" font-size="30" fill="#ff0000" stroke="#ff0000" stroke-width="0.2">Red(662nm)</text>
</g>
</svg>
</body>
</html>
